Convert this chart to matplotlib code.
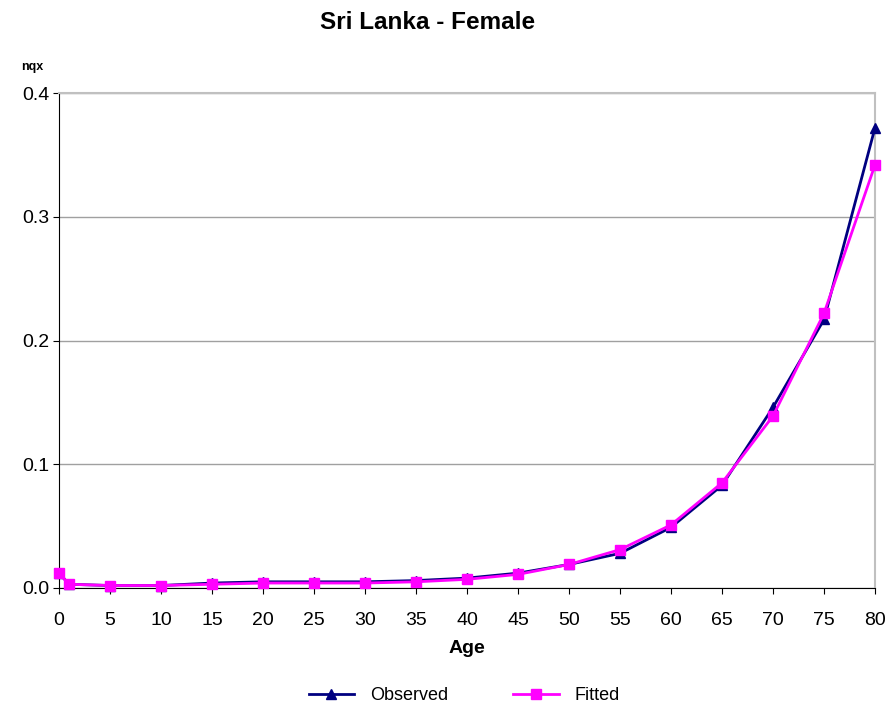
import matplotlib
matplotlib.use("Agg")
import matplotlib.pyplot as plt

plt.rcParams['font.family'] = ['Liberation Sans', 'DejaVu Sans']

# age groups and death probabilities
ages = [0, 1, 5, 10, 15, 20, 25, 30, 35, 40, 45, 50, 55, 60, 65, 70, 75, 80]
observed = [0.012, 0.003, 0.002, 0.002, 0.004, 0.005, 0.005, 0.005, 0.006,
            0.008, 0.012, 0.019, 0.028, 0.049, 0.083, 0.146, 0.217, 0.372]
fitted = [0.012, 0.003, 0.002, 0.002, 0.003, 0.004, 0.004, 0.004, 0.005,
          0.007, 0.011, 0.019, 0.031, 0.051, 0.085, 0.139, 0.222, 0.342]
x_ticks = list(range(0, 85, 5))
y_ticks = [0.0, 0.1, 0.2, 0.3, 0.4]

fig = plt.figure(figsize=(8.88, 7.08), dpi=100)
ax = fig.add_axes([0.0664, 0.1695, 0.919, 0.6991])

ax.plot(ages, observed, color='#000080', marker='^', markersize=7,
        linewidth=2, label='Observed', clip_on=False, zorder=3)
ax.plot(ages, fitted, color='#FF00FF', marker='s', markersize=7,
        linewidth=2, label='Fitted', clip_on=False, zorder=4)

ax.set_xlim(0, 80)
ax.set_ylim(0, 0.4)
ax.set_xticks(x_ticks)
ax.set_yticks(y_ticks)
ax.set_yticklabels(['{0:.1f}'.format(v) for v in y_ticks])
ax.tick_params(axis='both', labelsize=14, direction='out', length=4,
               color='#000000')
ax.tick_params(axis='x', pad=13)
ax.tick_params(axis='y', pad=3)
ax.yaxis.grid(True, color='#A0A0A0', linewidth=1)
ax.set_axisbelow(True)

for side in ['top', 'right']:
    ax.spines[side].set_color('#C0C0C0')
    ax.spines[side].set_linewidth(1.5)
ax.spines['left'].set_color('#000000')
ax.spines['bottom'].set_color('#000000')

ax.set_xlabel('Age', fontsize=14, fontweight='bold', labelpad=8)
fig.text(0.036, 0.905, 'nqx', fontsize=9, fontweight='bold',
         ha='center', va='center')
fig.suptitle('Sri Lanka - Female', x=0.482, fontsize=17.5,
             fontweight='bold', y=0.985)

fig.legend(loc='center', bbox_to_anchor=(0.523, 0.017), ncol=2,
           frameon=False, fontsize=13, handlelength=2.5, handletextpad=0.9,
           columnspacing=3.6)

plt.savefig('out.png', dpi=100)
